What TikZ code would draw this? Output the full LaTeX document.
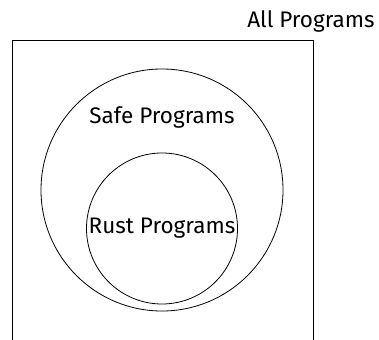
\documentclass[tikz,border=0pt]{standalone}
\usepackage{fontspec}
\setmainfont{Fira Sans}
\usetikzlibrary{positioning}
\tikzset{
    %Define style for the set boxes
    setbox/.style={
           rectangle,
           draw=black, line width=0.8pt,
           minimum width=301pt,
           minimum height=320pt},
    % Define style for the set circles
    setcircle/.style={
           circle,
           draw=black, line width=0.8pt,
           inner sep=0pt},
    % Define style for labels
    setlabel/.style={
           font=\fontsize{22.5}{27}\selectfont,
           inner sep=0pt},
}
\begin{document}
\begin{tikzpicture}[x=1pt, y=-1pt]
 \useasboundingbox (0,0) rectangle (379,339);
 \clip (0,0) rectangle (379,339);
 %nodes
 \node[setbox] (all) at (162.5,200) {};
 \node[setlabel] (alllabel) at (311,21) {All Programs};
 \node[setcircle, minimum size=242pt] (safe) at (162,190) {};
 \node[setlabel, below=38pt of safe.north] (safelabel) {Safe Programs};
 \node[setcircle, setlabel, draw=black, line width=0.8pt, minimum size=151pt] (rust) at (162,228.5) {Rust Programs};
\end{tikzpicture}
\end{document}
